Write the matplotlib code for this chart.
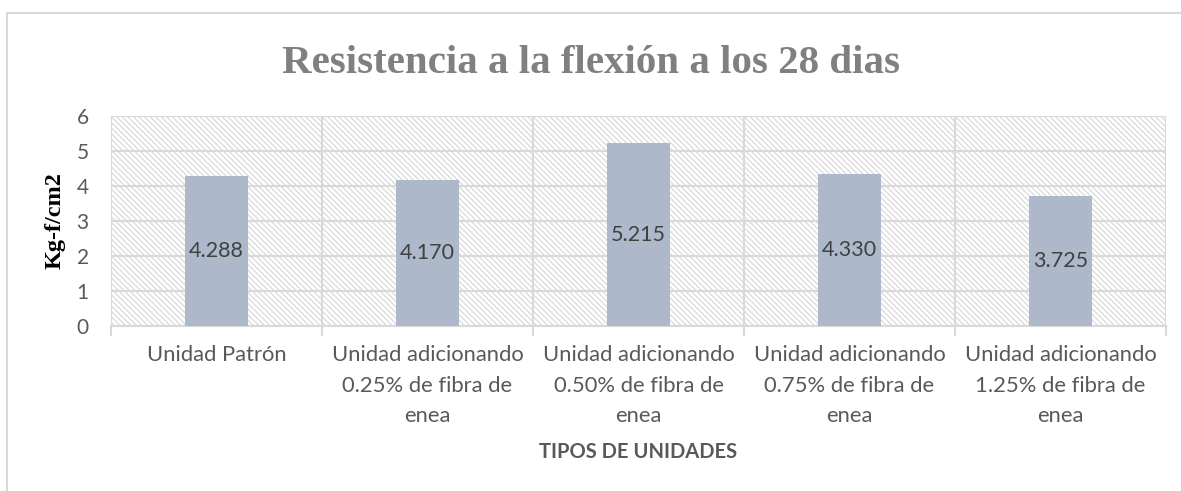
import matplotlib
matplotlib.use("Agg")
import matplotlib.pyplot as plt
from matplotlib.patches import Rectangle
import numpy as np

categories = [
    "Unidad Patrón",
    "Unidad adicionando\n0.25% de fibra de\nenea",
    "Unidad adicionando\n0.50% de fibra de\nenea",
    "Unidad adicionando\n0.75% de fibra de\nenea",
    "Unidad adicionando\n1.25% de fibra de\nenea",
]
values = [4.288, 4.170, 5.215, 4.330, 3.725]
value_labels = ["4.288", "4.170", "5.215", "4.330", "3.725"]
yticks = [0, 1, 2, 3, 4, 5, 6]

plt.rcParams['hatch.color'] = '#DADADA'
plt.rcParams['hatch.linewidth'] = 0.9

W, H = 1181, 491
fig = plt.figure(figsize=(W / 100, H / 100), dpi=100)

# outer chart border (extends past right/bottom edges)
fig.add_artist(Rectangle((7 / W, -0.1), 1.2, 1 - 13 / H + 0.1,
                         transform=fig.transFigure, fill=False,
                         edgecolor='#D9D9D9', linewidth=1.5))

ax = fig.add_axes([111 / W, 1 - 326 / H, (1166 - 111) / W, (326 - 116) / H])
ax.set_xlim(-0.5, len(categories) - 0.5)
ax.set_ylim(0, 6)

# hatched plot area
ax.add_patch(Rectangle((0, 0), 1, 1, transform=ax.transAxes, facecolor='white',
                       edgecolor='#DADADA', linewidth=0, hatch='\\\\\\\\\\\\', zorder=0))

x = np.arange(len(categories))
bars = ax.bar(x, values, width=0.295, color='#ADB9CA', zorder=3)
for xi, v, lab in zip(x, values, value_labels):
    ax.text(xi, v / 2, lab, ha='center', va='center', fontsize=15.5,
            color='#404040', family='Lato', zorder=4)

for s in ['top', 'right', 'left']:
    ax.spines[s].set_visible(False)
ax.spines['bottom'].set_color('#D9D9D9')
ax.spines['bottom'].set_linewidth(1.5)

ax.set_yticks(yticks)
ax.set_yticklabels([str(t) for t in yticks], fontsize=15, color='#595959', family='Lato')
ax.tick_params(axis='y', length=0, pad=16)
ax.set_xticks(x)
ax.set_xticklabels(categories, fontsize=15.8, color='#595959', family='Lato',
                   linespacing=1.63)
ax.tick_params(axis='x', which='major', length=0, pad=14)
bounds = np.arange(len(categories) + 1) - 0.5
ax.set_xticks(bounds, minor=True)
ax.tick_params(axis='x', which='minor', length=7, width=1.5, color='#D9D9D9')

ax.grid(axis='y', color='#D9D9D9', linewidth=1.5, zorder=1)
ax.grid(axis='x', which='minor', color='#D9D9D9', linewidth=1.5, zorder=1)
ax.set_axisbelow(True)

ax.set_ylabel("Kg-f/cm2", fontsize=17.5, fontweight='bold', family='Liberation Serif',
              color='black', labelpad=8)
ax.set_xlabel("TIPOS DE UNIDADES", fontsize=14.5, fontweight='bold', color='#595959',
              family='Lato', labelpad=12)

fig.text(0.5, 1 - 73 / H, "Resistencia a la flexión a los 28 dias", ha='center', va='baseline',
         fontsize=29.5, fontweight='bold', family='Liberation Serif', color='#808080')

fig.savefig("out.png", dpi=100)
